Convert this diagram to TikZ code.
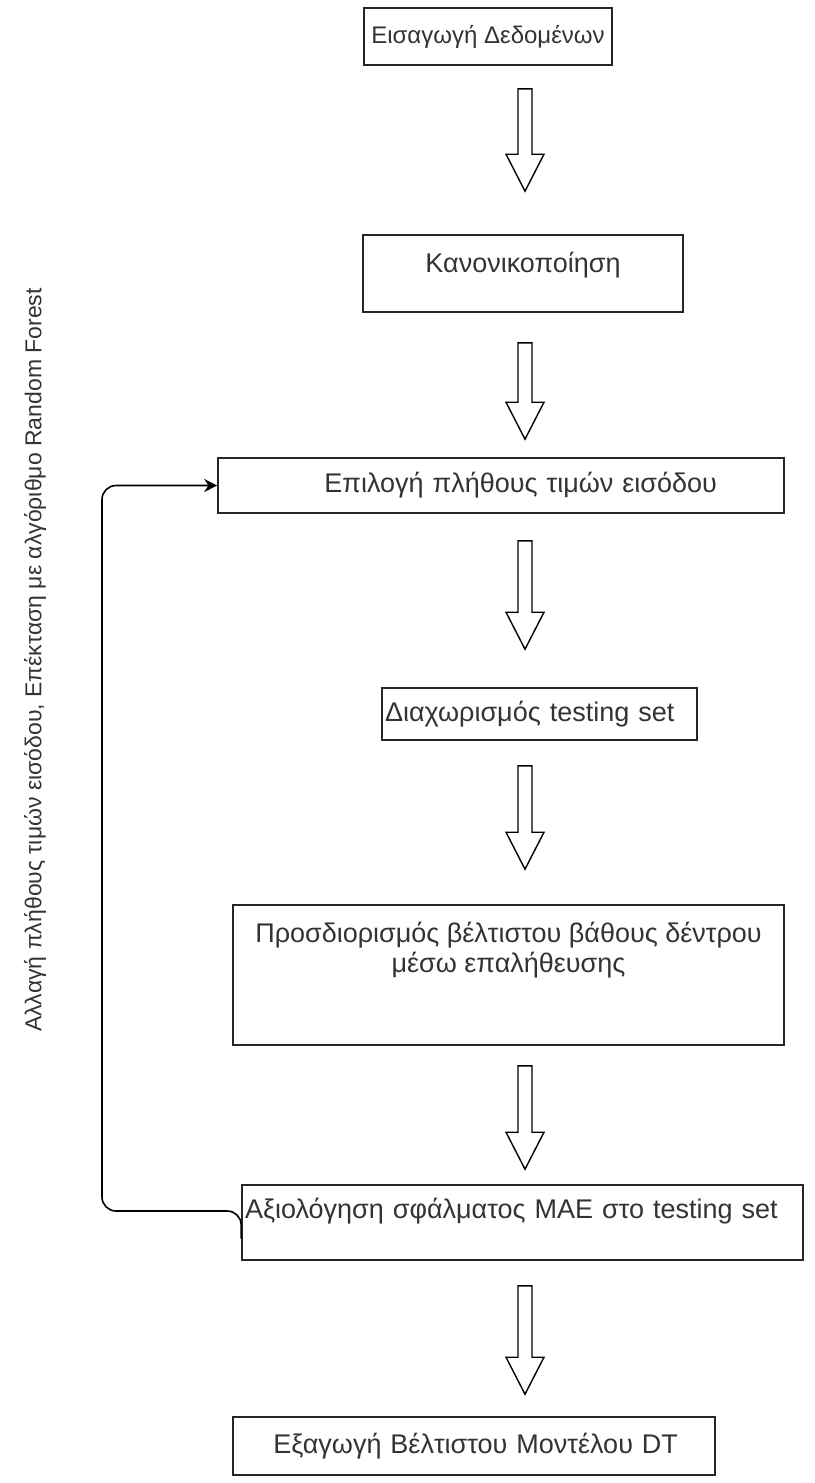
\documentclass[tikz,border=0pt]{standalone}
\usepackage{fontspec}
\setmainfont{Liberation Sans}
\usepackage{tikz}
\usetikzlibrary{arrows.meta,calc}

\tikzset{
  stepbox/.style={draw=black!85, line width=1.6pt, inner sep=0pt,
    font=\fontsize{27}{30}\selectfont, text=black!80},
  blockarrow/.style={draw=black, line width=1.4pt, fill=white, line join=miter},
  loopline/.style={draw=black, line width=1.6pt, rounded corners=14pt,
    -{Stealth[length=13pt,width=13pt]}}
}
% hollow arrow between two boxes: source, target, top gap, bottom gap
\newcommand{\arrx}{525}
\newcommand{\hollowarrow}[4]{%
  \draw[blockarrow] let \p1=(#1.south), \p2=(#2.north),
      \n1={\y1-#3}, \n2={\y2+#4}, \n3={\y2+#4+37} in
    ({\arrx pt-7pt},\n1) -- ({\arrx pt+7pt},\n1) -- ({\arrx pt+7pt},\n3)
    -- ({\arrx pt+19pt},\n3) -- ({\arrx pt},\n2) -- ({\arrx pt-19pt},\n3)
    -- ({\arrx pt-7pt},\n3) -- cycle;
}

\begin{document}
\begin{tikzpicture}[x=1pt, y=-1pt]
    \useasboundingbox (0,0) rectangle (814,1483);
    % Process boxes
    \node[stepbox, minimum width=248pt, minimum height=57pt, font=\fontsize{24}{28}\selectfont]
      (in) at (488,36.5) {Εισαγωγή Δεδομένων};
    \node[stepbox, minimum width=320pt, minimum height=77pt, text depth=22pt]
      (norm) at (523,273.5) {Κανονικοποίηση};
    \node[stepbox, minimum height=55pt, inner xsep=67pt, text width=432pt, align=right]
      (sel) at (501,485.5) {Επιλογή πλήθους τιμών εισόδου};
    \node[stepbox, minimum height=52pt, inner xsep=3pt, text width=309pt, align=left]
      (split) at (539.5,714) {Διαχωρισμός testing set};
    \node[stepbox, minimum width=551pt, minimum height=140pt, align=center, text depth=56pt]
      (depth) at (508.5,975) {Προσδιορισμός βέλτιστου βάθους δέντρου\\μέσω επαλήθευσης};
    \node[stepbox, minimum height=75pt, inner xsep=3pt, text width=555pt, align=left,
      text depth=28pt] (eval) at (522.5,1222.5) {Αξιολόγηση σφάλματος MAE στο testing set};
    \node[stepbox, minimum height=58pt, inner xsep=37pt, text width=408pt, align=right]
      (out) at (474,1446) {Εξαγωγή Βέλτιστου Μοντέλου DT};
    % Block arrows
    \hollowarrow{in}{norm}{23}{43}
    \hollowarrow{norm}{sel}{30}{18}
    \hollowarrow{sel}{split}{27}{38}
    \hollowarrow{split}{depth}{25}{35}
    \hollowarrow{depth}{eval}{20}{15}
    \hollowarrow{eval}{out}{25}{22}
    % Feedback loop
    \coordinate (back) at (102,1211);
    \draw[loopline] ([yshift=-16pt]eval.west) |- (back) |- (sel.west);
    \node[rotate=90, font=\fontsize{23}{28}\selectfont, text=black!80] (loopnote) at (35,660)
      {Αλλαγή πλήθους τιμών εισόδου, Επέκταση με αλγόριθμο Random Forest};
\end{tikzpicture}
\end{document}
